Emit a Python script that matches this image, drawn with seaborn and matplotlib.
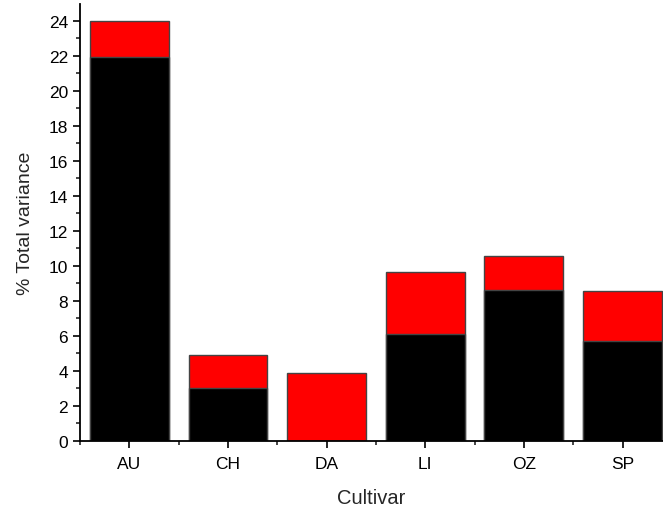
import pandas as pd
import seaborn as sns
import matplotlib.pyplot as plt
from matplotlib.ticker import MultipleLocator

# values
cultivars = ["AU", "CH", "DA", "LI", "OZ", "SP"]
lower = [21.95, 3.0, 0.0, 6.1, 8.6, 5.7]     # black part
total = [24.0, 4.9, 3.87, 9.65, 10.56, 8.53]  # black + red

df = pd.DataFrame({"Cultivar": cultivars, "lower": lower, "total": total})

sns.set_style("ticks")
plt.rcParams['font.family'] = ['Liberation Sans', 'DejaVu Sans']

fig = plt.figure(figsize=(6.63, 5.10), dpi=100)
ax = fig.add_axes([0.1207, 0.134, 0.8793, 0.856])

sns.barplot(data=df, x="Cultivar", y="total", color="#ff0000", saturation=1,
            width=0.8, edgecolor="#444444", linewidth=1, ax=ax)
sns.barplot(data=df, x="Cultivar", y="lower", color="black", saturation=1,
            width=0.8, edgecolor="#444444", linewidth=1, ax=ax)

ax.set_autoscalex_on(False)
ax.set_xlim(-0.5, 5.41)
ax.set_ylim(0, 24.95)
ax.yaxis.set_major_locator(MultipleLocator(2))
ax.yaxis.set_minor_locator(MultipleLocator(1))
ax.set_xticks([i + 0.5 for i in range(-1, 6)], minor=True)

ax.tick_params(axis="both", which="major", direction="out", length=5, width=1.2,
               labelsize=12.5, colors="black")
ax.tick_params(axis="both", which="minor", direction="out", length=3, width=1.2)
ax.tick_params(axis="x", which="major", pad=6)

sns.despine(ax=ax)
for s in ["left", "bottom"]:
    ax.spines[s].set_linewidth(1.3)
    ax.spines[s].set_color("black")

ax.set_xlabel("Cultivar", fontsize=14.5, labelpad=12)
ax.set_ylabel("% Total variance", fontsize=14, labelpad=11)

fig.canvas.draw()
ax.set_xlim(-0.5, 5.41)
fig.savefig("out.png", dpi=100)
